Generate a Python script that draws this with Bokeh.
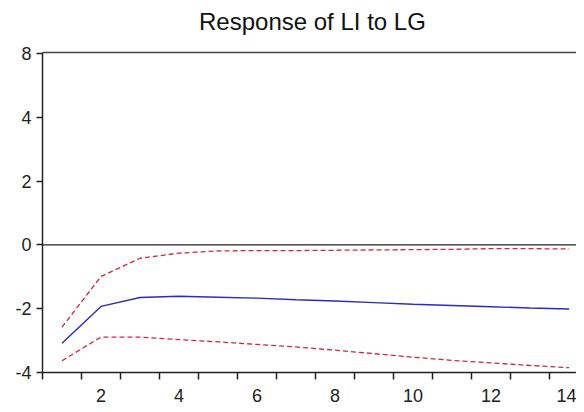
from bokeh.plotting import figure
from bokeh.models import FixedTicker, Span, Range1d, Label
from bokeh.embed import file_html
from bokeh.resources import INLINE

# ---- data ----
periods = list(range(1, 15))
response = [-3.08, -1.93, -1.65, -1.61, -1.64, -1.67, -1.72, -1.76, -1.81, -1.86, -1.90, -1.94, -1.98, -2.01]
upper = [-2.58, -0.99, -0.42, -0.26, -0.19, -0.18, -0.18, -0.17, -0.16, -0.15, -0.14, -0.12, -0.12, -0.13]
lower = [-3.63, -2.89, -2.89, -2.97, -3.04, -3.12, -3.20, -3.30, -3.41, -3.52, -3.62, -3.70, -3.78, -3.85]
x_label_ticks = [2, 4, 6, 8, 10, 12, 14]
x_mark_ticks = [0.5, 1.5, 2.5, 3.5, 4.5, 5.5, 6.5, 7.5, 8.5, 9.5, 10.5, 11.5, 12.5, 13.5]
y_ticks = [-4, -2, 0, 2, 4, 6]
y_tick_labels = ["-4", "-2", "0", "2", "4", "8"]
title_text = "Response of LI to LG"

FONT = "Liberation Sans"
Y_TOP = 6.03  # top border of the plotting box

p = figure(width=576, height=404, output_backend="svg", toolbar_location=None,
           x_range=Range1d(0.5, 14.19), y_range=Range1d(-4.0, 7.656),
           min_border_left=42, min_border_right=0, min_border_bottom=20, min_border_top=0)

p.outline_line_color = None
p.xgrid.visible = False
p.ygrid.visible = False
p.background_fill_color = "white"
p.border_fill_color = "white"

# title drawn as a text label above the box
p.add_layout(Label(x=7.42, y=7.0, text=title_text, text_align="center",
                   text_baseline="middle", text_font=FONT, text_font_size="24px",
                   text_color="#111111"))

# x axis: labels at even periods, tick marks between periods
xa = p.xaxis[0]
xa.ticker = FixedTicker(ticks=x_label_ticks, minor_ticks=x_mark_ticks)
xa.major_tick_line_color = None
xa.major_tick_out = 0
xa.major_tick_in = 0
xa.minor_tick_out = 7
xa.minor_tick_in = 0
xa.minor_tick_line_color = "#222222"
xa.minor_tick_line_width = 1.5
xa.axis_line_color = "#222222"
xa.axis_line_width = 1.5
xa.major_label_text_font = FONT
xa.major_label_text_font_size = "18px"
xa.major_label_text_color = "#222222"
xa.major_label_standoff = 9

ya = p.yaxis[0]
ya.ticker = FixedTicker(ticks=y_ticks)
ya.bounds = (-4.0, Y_TOP)
ya.major_label_overrides = {t: s for t, s in zip(y_ticks, y_tick_labels)}
ya.minor_tick_line_color = None
ya.major_tick_out = 6
ya.major_tick_in = 0
ya.major_tick_line_color = "#222222"
ya.major_tick_line_width = 1.5
ya.axis_line_color = "#222222"
ya.axis_line_width = 1.5
ya.major_label_text_font = FONT
ya.major_label_text_font_size = "18px"
ya.major_label_text_color = "#222222"
ya.major_label_standoff = 5

# top border and zero line
p.add_layout(Span(location=Y_TOP, dimension="width", line_color="#444444", line_width=1.5))
p.add_layout(Span(location=0, dimension="width", line_color="#222222", line_width=1.2))

p.line(periods, upper, line_color="#cc2a3a", line_width=1.3, line_dash="5 3")
p.line(periods, lower, line_color="#cc2a3a", line_width=1.3, line_dash="5 3")
p.line(periods, response, line_color="#2b2bc0", line_width=1.4)

open("out.html", "w").write(file_html(p, INLINE))
